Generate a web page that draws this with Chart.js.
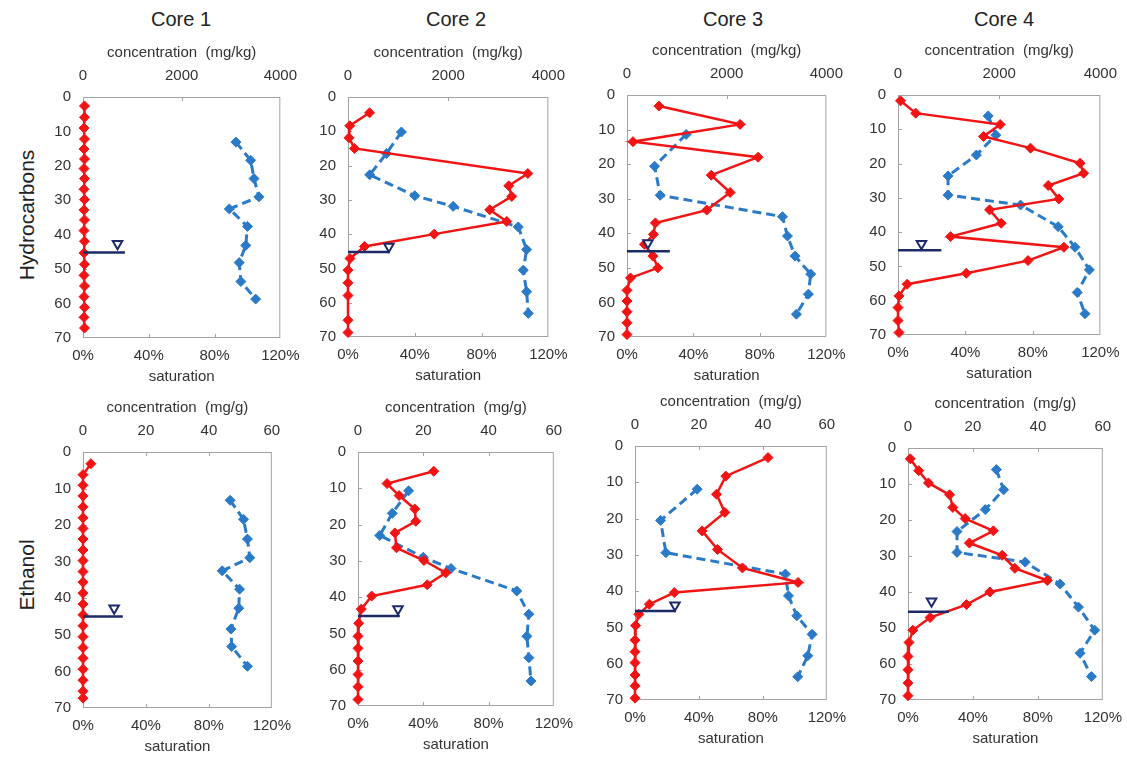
<!DOCTYPE html>
<html>
<head>
<meta charset="utf-8">
<script src="https://cdn.jsdelivr.net/npm/chart.js@4.4.1/dist/chart.umd.min.js"></script>
<style>
  html, body { margin: 0; padding: 0; background: #fff; }
  body { width: 1127px; height: 759px; position: relative; overflow: hidden; font-family: "Liberation Sans", Arial, sans-serif; color: #222; }
  canvas { position: absolute; }
  .core { position: absolute; top: 8px; font-size: 20px; transform: translateX(-50%); white-space: nowrap; }
  .row { position: absolute; font-size: 21px; transform: translate(-50%, -50%) rotate(-90deg); white-space: nowrap; }
</style>
</head>
<body>
<div class="core" style="left:181px">Core 1</div>
<div class="core" style="left:456px">Core 2</div>
<div class="core" style="left:733px">Core 3</div>
<div class="core" style="left:1004px">Core 4</div>
<div class="row" style="left:27px; top:215px">Hydrocarbons</div>
<div class="row" style="left:27px; top:575px">Ethanol</div>
<script>
const depthTicks = [0, 10, 20, 30, 40, 50, 60, 70];
const satTicks = [0, 40, 80, 120];
const hcConcTicks = [0, 2000, 4000];
const etConcTicks = [0, 20, 40, 60];

// hydrocarbons, concentration (mg/kg) vs depth
const hc1Depth = [2.6, 5.9, 9.0, 12.2, 15.1, 18.0, 20.8, 23.7, 26.8, 29.8, 32.8, 35.7, 38.8, 41.9, 45.3, 48.6, 51.8, 54.9, 58.0, 61.1, 64.0, 67.1];
const hc1Conc = [30, 30, 20, 30, 20, 30, 20, 30, 20, 30, 20, 30, 20, 30, 20, 30, 20, 30, 20, 30, 20, 30];
const hc2Depth = [4.6, 8.4, 11.9, 15.0, 22.3, 25.9, 29.0, 32.9, 36.3, 40.0, 43.6, 47.1, 50.5, 54.2, 57.9, 65.1, 68.7];
const hc2Conc = [430, 35, 20, 130, 3590, 3210, 3270, 2830, 3170, 1720, 330, 40, 0, 0, 0, 0, 0];
const hc3Depth = [3.2, 8.5, 13.5, 18.0, 23.2, 28.2, 33.3, 37.0, 40.3, 43.2, 46.6, 50.0, 52.9, 56.5, 59.6, 62.7, 65.9, 69.3];
const hc3Conc = [640, 2270, 120, 2630, 1690, 2070, 1600, 570, 530, 350, 520, 620, 70, 0, 0, 0, 0, 0];
const hc4Depth = [1.7, 5.3, 8.6, 12.1, 15.5, 19.9, 22.8, 26.4, 30.3, 33.5, 37.4, 41.3, 44.4, 48.3, 52.0, 55.2, 58.6, 62.0, 65.8, 69.3];
const hc4Conc = [50, 350, 2020, 1690, 2620, 3600, 3670, 2970, 3180, 1810, 2040, 1040, 3280, 2570, 1350, 180, 20, 0, 0, 20];

// ethanol, concentration (mg/g) vs depth
const et1Depth = [3.2, 6.2, 9.1, 12.0, 15.0, 18.0, 20.9, 23.8, 26.8, 29.7, 32.7, 35.6, 38.6, 41.6, 44.5, 47.5, 50.5, 53.5, 56.4, 59.4, 62.4, 65.4, 67.3];
const et1Conc = [2.5, 0, 0, 0, 0, 0, 0, 0, 0, 0, 0, 0, 0, 0, 0, 0, 0, 0, 0, 0, 0, 0, 0];
const et2Depth = [5.3, 8.7, 12.0, 15.7, 19.1, 22.3, 26.4, 29.9, 33.3, 36.6, 39.7, 43.3, 47.2, 50.8, 54.1, 57.6, 61.3, 64.7, 68.2];
const et2Conc = [23.2, 8.9, 12.6, 17.4, 17.7, 11.3, 11.8, 20.2, 26.9, 21.2, 4.2, 1.0, 0.2, 0, 0, 0, 0, 0, 0];
const et3Depth = [3.2, 8.3, 13.3, 18.3, 23.4, 28.5, 33.6, 37.6, 40.4, 43.6, 46.4, 49.5, 53.5, 56.7, 59.7, 63.1, 66.1, 69.5];
const et3Conc = [41.6, 28.4, 25.5, 28.1, 21.0, 25.8, 33.6, 51.0, 12.3, 4.5, 1.2, 0.2, 0, 0, 0, 0, 0, 0];
const et4Depth = [3.0, 6.3, 9.7, 13.0, 16.5, 19.6, 23.0, 26.4, 29.8, 33.4, 36.8, 40.0, 43.5, 47.1, 50.6, 54.0, 57.9, 61.6, 65.3, 68.8];
const et4Conc = [0.7, 3.3, 6.3, 12.8, 13.8, 17.6, 26.3, 18.9, 29.0, 32.9, 42.9, 25.2, 18.0, 6.8, 1.5, 0.3, 0, 0, 0, 0];

// saturation (%) vs depth
const hc1SatDepth = [13.1, 18.4, 23.7, 29.0, 32.5, 37.6, 43.1, 48.1, 53.6, 58.7];
const hc1Sat = [93, 102, 104, 107, 89, 100, 99, 95, 96, 105];
const hc2SatDepth = [10.2, 16.5, 22.7, 28.8, 31.9, 37.9, 44.5, 50.5, 56.8, 63.1];
const hc2Sat = [32, 23, 13, 40, 63, 102, 107, 105, 107, 108];
const hc3SatDepth = [11.4, 20.6, 29.0, 35.2, 40.8, 46.6, 51.8, 57.6, 63.4];
const hc3Sat = [35.6, 16.6, 20, 93.6, 96.6, 101.2, 110.6, 109.2, 102];
const hc4SatDepth = [6.1, 11.7, 17.5, 23.6, 29.2, 32.1, 38.4, 44.4, 51.0, 57.6, 63.8];
const hc4Sat = [53.5, 58, 46.5, 29.7, 29.7, 72.7, 95, 105, 113.5, 106.3, 110.9];
const et1SatDepth = [13.2, 18.4, 23.8, 28.9, 32.5, 37.5, 42.7, 48.4, 53.2, 58.6];
const et1Sat = [93.5, 102, 104.5, 106, 88.5, 99.5, 99, 94, 94.5, 104.5];
const et2SatDepth = [10.7, 16.9, 23.0, 29.0, 32.1, 38.3, 44.7, 50.8, 56.7, 63.1];
const et2Sat = [31, 21, 13.3, 40, 57, 97.3, 104.7, 103.5, 104.7, 106];
const et3SatDepth = [11.9, 20.5, 29.4, 35.3, 41.3, 46.8, 51.9, 57.8, 63.6];
const et3Sat = [38.9, 16, 19.3, 94.1, 96, 101.2, 110.8, 108.1, 101.8];
const et4SatDepth = [6.0, 11.6, 17.1, 23.2, 29.0, 31.7, 37.8, 44.2, 50.6, 57.0, 63.5];
const et4Sat = [54.4, 58.9, 47.6, 30.2, 30.2, 72.2, 93.7, 105, 115, 106, 113];

// water table, one entry per panel (hc1..hc4, et1..et4)
const wtDepth = [45.2, 45.2, 45.2, 45.3, 45.0, 45.2, 45.5, 45.5];
const wtLineEnd = [25.5, 25.0, 25.8, 25.7, 25.3, 25.6, 25.6, 25.2];
const wtMarkSat = [21, 24.5, 12.6, 13.9, 19.8, 24.5, 25, 14.5];
const wtMarkDepth = [42.6, 43.6, 42.8, 43.4, 42.7, 43.3, 43.9, 42.6];

const boxes = [
  {l: 83, r: 281, t: 97, b: 338},
  {l: 348, r: 549, t: 97, b: 337},
  {l: 627, r: 827, t: 95, b: 337},
  {l: 898, r: 1101, t: 95, b: 335},
  {l: 83, r: 272, t: 452, b: 708},
  {l: 358, r: 554, t: 452, b: 706},
  {l: 635, r: 827, t: 446, b: 700},
  {l: 908, r: 1103, t: 448, b: 700}
];

const family = '"Liberation Sans", Arial, sans-serif';
const textColor = '#333';
const red = '#f21414';
const blue = '#2a7ac8';
const navy = '#1c2a68';
const frameColor = '#a3a3a3';

const yAxisW = 45, topH = 60, botH = 55, padR = 28;

function pairs(xs, ys) {
  return xs.map((x, i) => ({x: x, y: ys[i]}));
}

function fixedTicks(values) {
  return (scale) => { scale.ticks = values.map((v) => ({value: v})); };
}

const framePlugin = {
  id: 'frame',
  beforeDatasetsDraw(chart) {
    const {ctx, chartArea: a, scales} = chart;
    ctx.save();
    ctx.strokeStyle = frameColor;
    ctx.lineWidth = 1;
    ctx.strokeRect(a.left + 0.5, a.top + 0.5, a.right - a.left - 1, a.bottom - a.top - 1);
    ctx.beginPath();
    scales.y.ticks.forEach((t) => {
      if (t.value <= 0 || t.value >= 70) return;
      const py = Math.round(scales.y.getPixelForValue(t.value)) + 0.5;
      ctx.moveTo(a.left, py);
      ctx.lineTo(a.left + 4, py);
    });
    scales.sat.ticks.forEach((t, i) => {
      if (i === 0 || i === scales.sat.ticks.length - 1) return;
      const px = Math.round(scales.sat.getPixelForValue(t.value)) + 0.5;
      ctx.moveTo(px, a.bottom);
      ctx.lineTo(px, a.bottom - 4);
    });
    scales.conc.ticks.forEach((t, i) => {
      if (i === 0 || i === scales.conc.ticks.length - 1) return;
      const px = Math.round(scales.conc.getPixelForValue(t.value)) + 0.5;
      ctx.moveTo(px, a.top);
      ctx.lineTo(px, a.top + 4);
    });
    ctx.stroke();
    ctx.restore();
  }
};

function makePanel(i, concTicks, concTitle, depth, conc, satDepth, sat) {
  const box = boxes[i];
  const canvas = document.createElement('canvas');
  canvas.width = box.r - box.l + yAxisW + padR;
  canvas.height = box.b - box.t + topH + botH;
  canvas.style.left = (box.l - yAxisW) + 'px';
  canvas.style.top = (box.t - topH) + 'px';
  document.body.appendChild(canvas);

  const tickFont = {family: family, size: 15};
  new Chart(canvas, {
    type: 'line',
    data: {
      datasets: [
        {
          data: [{x: wtMarkSat[i], y: wtMarkDepth[i]}],
          xAxisID: 'sat',
          showLine: false,
          pointStyle: 'triangle',
          rotation: 180,
          pointRadius: 5.5,
          pointBorderWidth: 2,
          pointBorderColor: navy,
          pointBackgroundColor: '#fff',
          clip: false
        },
        {
          data: [{x: 0, y: wtDepth[i]}, {x: wtLineEnd[i], y: wtDepth[i]}],
          xAxisID: 'sat',
          borderColor: navy,
          borderWidth: 2.5,
          pointRadius: 0,
          clip: false
        },
        {
          data: pairs(conc, depth),
          xAxisID: 'conc',
          borderColor: red,
          backgroundColor: red,
          borderWidth: 2.5,
          pointStyle: 'rectRot',
          pointRadius: 5,
          pointBorderWidth: 1,
          clip: false
        },
        {
          data: pairs(sat, satDepth),
          xAxisID: 'sat',
          borderColor: blue,
          backgroundColor: blue,
          borderWidth: 3,
          borderDash: [9, 5],
          pointStyle: 'rectRot',
          pointRadius: 5,
          pointBorderWidth: 1,
          clip: false
        }
      ]
    },
    options: {
      responsive: false,
      animation: false,
      layout: {padding: {left: 0, top: 0, bottom: 0, right: padR}},
      plugins: {legend: {display: false}, tooltip: {enabled: false}},
      scales: {
        y: {
          type: 'linear',
          position: 'left',
          reverse: true,
          min: depthTicks[0],
          max: depthTicks[depthTicks.length - 1],
          afterBuildTicks: fixedTicks(depthTicks),
          afterFit: (s) => { s.width = yAxisW; },
          grid: {display: false, drawTicks: false},
          border: {display: false},
          ticks: {padding: 12, color: textColor, font: tickFont}
        },
        sat: {
          type: 'linear',
          position: 'bottom',
          min: satTicks[0],
          max: satTicks[satTicks.length - 1],
          afterBuildTicks: fixedTicks(satTicks),
          afterFit: (s) => { s.height = botH; },
          grid: {display: false, drawTicks: false},
          border: {display: false},
          ticks: {padding: 9, color: textColor, font: tickFont, maxRotation: 0, autoSkip: false, callback: (v) => v + '%'},
          title: {display: true, text: 'saturation', color: textColor, font: tickFont, padding: {top: 0, bottom: 7}}
        },
        conc: {
          type: 'linear',
          position: 'top',
          min: concTicks[0],
          max: concTicks[concTicks.length - 1],
          afterBuildTicks: fixedTicks(concTicks),
          afterFit: (s) => { s.height = topH; },
          grid: {display: false, drawTicks: false},
          border: {display: false},
          ticks: {padding: 12, color: textColor, font: tickFont, maxRotation: 0, autoSkip: false, callback: (v) => String(v)},
          title: {display: true, text: concTitle, color: textColor, font: tickFont, padding: {top: 7, bottom: 0}}
        }
      }
    },
    plugins: [framePlugin]
  });
}

makePanel(0, hcConcTicks, 'concentration  (mg/kg)', hc1Depth, hc1Conc, hc1SatDepth, hc1Sat);
makePanel(1, hcConcTicks, 'concentration  (mg/kg)', hc2Depth, hc2Conc, hc2SatDepth, hc2Sat);
makePanel(2, hcConcTicks, 'concentration  (mg/kg)', hc3Depth, hc3Conc, hc3SatDepth, hc3Sat);
makePanel(3, hcConcTicks, 'concentration  (mg/kg)', hc4Depth, hc4Conc, hc4SatDepth, hc4Sat);
makePanel(4, etConcTicks, 'concentration  (mg/g)', et1Depth, et1Conc, et1SatDepth, et1Sat);
makePanel(5, etConcTicks, 'concentration  (mg/g)', et2Depth, et2Conc, et2SatDepth, et2Sat);
makePanel(6, etConcTicks, 'concentration  (mg/g)', et3Depth, et3Conc, et3SatDepth, et3Sat);
makePanel(7, etConcTicks, 'concentration  (mg/g)', et4Depth, et4Conc, et4SatDepth, et4Sat);
</script>
</body>
</html>
